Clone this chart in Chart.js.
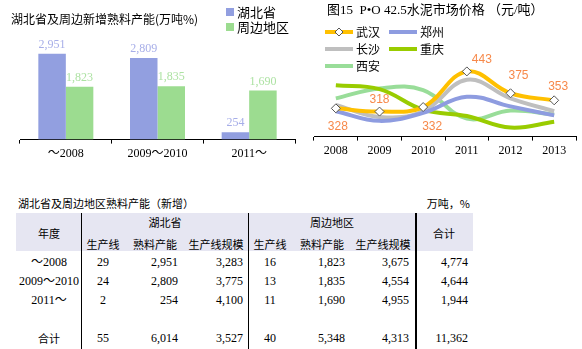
<!DOCTYPE html>
<html>
<head>
<meta charset="utf-8">
<script src="https://cdn.jsdelivr.net/npm/chart.js@4"></script>
<style>
  html, body { margin: 0; padding: 0; background: #fff; }
  #wrap { position: relative; width: 582px; height: 349px; overflow: hidden; }
  #barc { position: absolute; left: 0; top: 0; }
  #linec { position: absolute; left: 300px; top: 0; }
  .t { position: absolute; white-space: nowrap; font-family: "Liberation Serif", "Noto Sans CJK SC", serif; font-size: 12px; color: #000; line-height: 1; }
  .cj { font-family: "Noto Sans CJK SC", sans-serif; font-size: 11px; }
  .box { position: absolute; }
</style>
</head>
<body>
<div id="wrap">
  <canvas id="barc" width="300" height="175"></canvas>
  <canvas id="linec" width="282" height="175"></canvas>
</div>
<script>
// left bar chart
const barCats = ['～2008', '2009～2010', '2011～'];
const hubei = [2951, 2809, 254];
const around = [1823, 1835, 1690];

// right line chart (元/吨)
const years = ['2008', '2009', '2010', '2011', '2012', '2013'];
const wuhan = [328, 318, 332, 443, 375, 353];
const zhengzhou = [319, 289, 314, 364, 334, 306];
const changsha = [339, 301, 319, 417, 359, 319];
const chongqing = [400, 388, 324, 304, 268, 286];
const xian = [359, 390, 385, 296, 321, 309];

// table
const tblYears = ['～2008', '2009～2010', '2011～', '合计'];
const hbLines = [29, 24, 2, 55];
const hbCap = [2951, 2809, 254, 6014];
const hbScale = [3283, 3775, 4100, 3527];
const zbLines = [16, 13, 11, 40];
const zbCap = [1823, 1835, 1690, 5348];
const zbScale = [3675, 4554, 4955, 4313];
const totals = [4774, 4644, 1944, 11362];

const fmt = v => v.toLocaleString('en-US');
const CJK = '"Noto Sans CJK SC", sans-serif';
const SERIF = '"Liberation Serif", "Noto Sans CJK SC", serif';

const barDeco = {
  id: 'barDeco',
  afterDatasetsDraw(chart) {
    const ctx = chart.ctx;
    ctx.save();
    ctx.textAlign = 'center';
    ctx.textBaseline = 'bottom';
    ctx.font = '12px ' + SERIF;
    const labelColors = ['#A7AEE8', '#ADE2A3'];
    chart.data.datasets.forEach((ds, i) => {
      chart.getDatasetMeta(i).data.forEach((bar, j) => {
        ctx.fillStyle = labelColors[i];
        ctx.fillText(fmt(ds.data[j]), bar.x, bar.y - 3);
      });
    });
    // title
    ctx.fillStyle = '#000';
    ctx.textAlign = 'left';
    ctx.textBaseline = 'middle';
    ctx.font = '12px ' + CJK;
    ctx.fillText('湖北省及周边新增熟料产能(万吨%)', 11, 19);
    // legend
    ctx.font = '13px ' + CJK;
    chart.data.datasets.forEach((ds, i) => {
      const y = 12 + i * 15;
      ctx.fillStyle = ds.backgroundColor;
      ctx.fillRect(226, y - 4, 8, 8);
      ctx.fillStyle = '#000';
      ctx.fillText(ds.label, 237, y);
    });
    ctx.restore();
  }
};

new Chart(document.getElementById('barc'), {
  type: 'bar',
  data: {
    labels: barCats,
    datasets: [
      { label: '湖北省', data: hubei, backgroundColor: '#929FE0' },
      { label: '周边地区', data: around, backgroundColor: '#9CDC90' }
    ]
  },
  options: {
    responsive: false,
    animation: false,
    layout: { padding: { top: 35, left: 20, right: 5, bottom: 11 } },
    plugins: { legend: { display: false }, tooltip: { enabled: false } },
    datasets: { bar: { categoryPercentage: 0.6, barPercentage: 1.0 } },
    scales: {
      x: {
        grid: { drawOnChartArea: false, tickLength: 4, color: '#000' },
        border: { color: '#000' },
        ticks: { color: '#000', padding: 3, font: { family: SERIF, size: 12 } }
      },
      y: { display: false, min: 0, max: 3600 }
    }
  },
  plugins: [barDeco]
});

const lineDeco = {
  id: 'lineDeco',
  afterDatasetsDraw(chart) {
    const ctx = chart.ctx;
    ctx.save();
    // value labels for 武汉
    const offs = [[2, 18], [0, -12], [9, 20], [15, -12], [8, -18], [4, -14]];
    ctx.font = '12px "Liberation Sans", sans-serif';
    ctx.fillStyle = '#F7894A';
    ctx.textAlign = 'center';
    ctx.textBaseline = 'middle';
    chart.getDatasetMeta(0).data.forEach((pt, j) => {
      ctx.fillText(String(wuhan[j]), pt.x + offs[j][0], pt.y + offs[j][1]);
    });
    // title
    ctx.fillStyle = '#000';
    ctx.textAlign = 'left';
    ctx.font = '13px ' + SERIF;
    ctx.fillText('图15  P•O 42.5水泥市场价格 （元/吨）', 27, 11);
    // legend in two columns
    ctx.font = '12px ' + CJK;
    chart.data.datasets.forEach((ds, i) => {
      const col = i % 2, row = Math.floor(i / 2);
      const x = col === 0 ? 25 : 89;
      const y = 32 + row * 17;
      ctx.strokeStyle = ds.borderColor;
      ctx.lineWidth = 4;
      ctx.beginPath();
      ctx.moveTo(x, y);
      ctx.lineTo(x + 28, y);
      ctx.stroke();
      if (i === 0) {
        ctx.fillStyle = '#fff';
        ctx.strokeStyle = '#555';
        ctx.lineWidth = 1;
        ctx.beginPath();
        ctx.moveTo(x + 14, y - 4);
        ctx.lineTo(x + 18, y);
        ctx.lineTo(x + 14, y + 4);
        ctx.lineTo(x + 10, y);
        ctx.closePath();
        ctx.fill();
        ctx.stroke();
      }
      ctx.fillStyle = '#000';
      ctx.fillText(ds.label, x + 31, y);
    });
    ctx.restore();
  }
};

const mkLine = (label, data, color, marker) => ({
  label, data,
  borderColor: color,
  backgroundColor: color,
  borderWidth: 4,
  tension: 0.4,
  pointRadius: marker ? 4.5 : 0,
  pointStyle: 'rectRot',
  pointBackgroundColor: '#fff',
  pointBorderColor: '#555',
  pointBorderWidth: 1
});

new Chart(document.getElementById('linec'), {
  type: 'line',
  data: {
    labels: years,
    datasets: [
      mkLine('武汉', wuhan, '#FFC000', true),
      mkLine('郑州', zhengzhou, '#8E9CE0', false),
      mkLine('长沙', changsha, '#BFBFBF', false),
      mkLine('重庆', chongqing, '#99CC00', false),
      mkLine('西安', xian, '#99DD99', false)
    ]
  },
  options: {
    responsive: false,
    animation: false,
    layout: { padding: { top: 21, left: 14, right: 6, bottom: 14 } },
    plugins: { legend: { display: false }, tooltip: { enabled: false } },
    scales: {
      x: {
        offset: true,
        grid: { offset: true, drawOnChartArea: false, tickLength: 4, color: '#000' },
        border: { color: '#000' },
        ticks: { color: '#000', padding: 3, font: { family: SERIF, size: 12 } }
      },
      y: { display: false, min: 240, max: 600 }
    }
  },
  plugins: [lineDeco]
});

// table
const wrap = document.getElementById('wrap');
function put(text, x, y, align, cls) {
  const d = document.createElement('div');
  d.className = 't' + (cls ? ' ' + cls : '');
  d.textContent = text;
  d.style.left = x + 'px';
  d.style.top = y + 'px';
  const tx = align === 'center' ? '-50%' : align === 'right' ? '-100%' : '0';
  d.style.transform = 'translate(' + tx + ',-50%)';
  wrap.appendChild(d);
}
function box(x, y, w, h, color) {
  const d = document.createElement('div');
  d.className = 'box';
  Object.assign(d.style, { left: x + 'px', top: y + 'px', width: w + 'px', height: h + 'px', background: color });
  wrap.appendChild(d);
}

box(16, 213, 457, 38, '#E6E6F2');
box(81, 213, 1, 136, '#000');
box(248, 213, 1, 136, '#000');
box(415, 213, 2, 136, '#000');

put('湖北省及周边地区熟料产能（新增）', 18, 203, 'left', 'cj');
put('万吨，%', 470, 203, 'right', 'cj');
put('年度', 49, 233, 'center', 'cj');
put('湖北省', 165, 222, 'center', 'cj');
put('周边地区', 332, 222, 'center', 'cj');
put('合计', 444, 233, 'center', 'cj');
[['生产线', 103], ['熟料产能', 155], ['生产线规模', 216], ['生产线', 270], ['熟料产能', 322], ['生产线规模', 383]]
  .forEach(([s, x]) => put(s, x, 244, 'center', 'cj'));

const rowY = [262, 281, 300, 338];
tblYears.forEach((yr, i) => {
  const y = rowY[i];
  put(yr, 49, y, 'center', i === 3 ? 'cj' : '');
  put(String(hbLines[i]), 103, y, 'center');
  put(fmt(hbCap[i]), 178, y, 'right');
  put(fmt(hbScale[i]), 243, y, 'right');
  put(String(zbLines[i]), 270, y, 'center');
  put(fmt(zbCap[i]), 345, y, 'right');
  put(fmt(zbScale[i]), 409, y, 'right');
  put(fmt(totals[i]), 468, y, 'right');
});
</script>
</body>
</html>
